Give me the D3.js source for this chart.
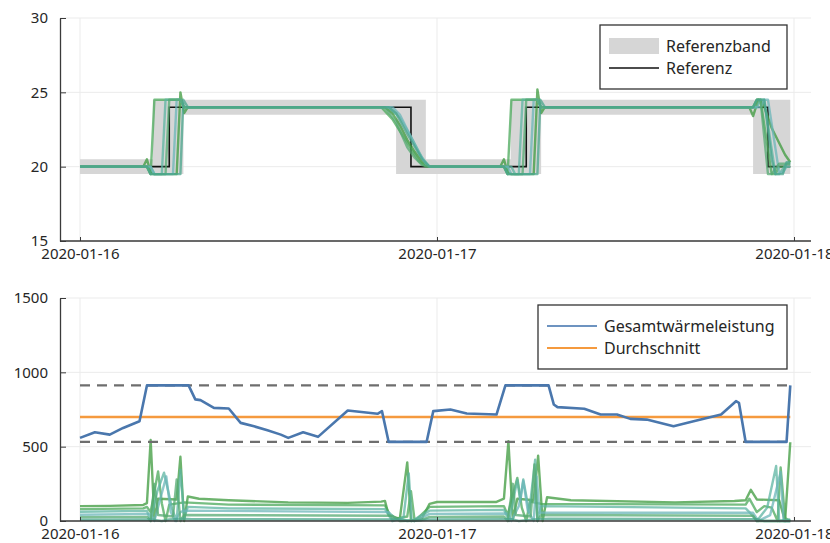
<!DOCTYPE html>
<html>
<head>
<meta charset="utf-8">
<script src="https://cdn.jsdelivr.net/npm/d3@7"></script>
<style>
  body { margin: 0; background: #fff; }
  svg { display: block; font-family: "Noto Sans", sans-serif; }
</style>
</head>
<body>
<svg id="chart" width="830" height="543"></svg>
<script>
// time in hours since 2020-01-16 00:00
const xTickDates = ["2020-01-16", "2020-01-17", "2020-01-18"];
const tempTicks = [15, 20, 25, 30];
const powerTicks = [0, 500, 1000, 1500];

const referenz = [[0, 20], [6, 20], [6, 24], [22.25, 24], [22.25, 20], [30, 20], [30, 24], [46.25, 24], [46.25, 20], [47.75, 20]];

const bandHours = [0, 4.9, 6.95, 21.25, 23.25, 28.95, 31.0, 45.25, 47.75];
const bandLow = [19.5, 19.5, 23.5, 19.5, 19.5, 19.5, 23.5, 19.5, 19.5];
const bandHigh = [20.5, 24.5, 24.5, 24.5, 20.5, 24.5, 24.5, 24.5, 24.5];

// room temperatures
const tempA = [[0, 20], [4.25, 20], [4.5, 20.5], [4.75, 19.6], [5, 19.5], [6.5, 19.5], [6.75, 25], [7, 23.6], [7.25, 24], [20.5, 24], [21, 23.6], [21.5, 22.8], [22, 21.8], [22.5, 21], [23, 20.3], [23.5, 20], [28.25, 20], [28.5, 20.5], [28.75, 19.6], [29, 19.5], [30.5, 19.5], [30.75, 25.2], [31, 23.6], [31.25, 24], [45, 24], [45.25, 23.4], [45.6, 24.5], [45.9, 24.3], [46.5, 22.6], [47.4, 20.8], [47.75, 20.3]];
const tempB = [[0, 20], [4.5, 20], [4.75, 19.5], [5, 24.5], [6.75, 24.5], [7, 24], [20.25, 24], [21, 23.2], [22, 21.6], [22.75, 20.4], [23.25, 20], [28.5, 20], [28.75, 19.5], [29, 24.5], [30.75, 24.5], [31, 24], [45.25, 24], [45.5, 24.5], [45.75, 24.5], [46.5, 19.5], [46.75, 19.5], [47, 20], [47.75, 20]];
const tempC = [[0, 20], [4.75, 20], [5, 19.5], [5.5, 19.5], [5.75, 24.5], [6.75, 24.5], [7, 24], [20.75, 24], [21.5, 23.3], [22.25, 22], [23, 20.6], [23.5, 20], [29, 20], [29.25, 19.5], [29.5, 19.5], [29.75, 24.5], [30.75, 24.5], [31, 24], [45.5, 24], [45.75, 24.5], [46, 24.5], [46.75, 19.5], [47, 19.5], [47.5, 20.2], [47.75, 20.2]];
const tempD = [[0, 20], [4.75, 20], [5, 19.5], [6.25, 19.5], [6.5, 24.5], [6.75, 24.5], [7, 24], [21, 24], [21.5, 23.5], [22, 22.5], [22.75, 21], [23.25, 20.2], [23.5, 20], [28.75, 20], [29, 19.5], [30.25, 19.5], [30.5, 24.5], [30.75, 24.5], [31, 24], [45.75, 24], [46, 24.5], [46.25, 24.5], [47, 19.6], [47.25, 19.6], [47.5, 20], [47.75, 20]];
const tempE = [[0, 20], [4.5, 20], [4.75, 19.5], [5.75, 19.5], [6, 24.5], [6.75, 24.5], [7, 24], [20.5, 24], [21.25, 23], [22, 21.3], [22.5, 20.6], [23, 20.1], [23.5, 20], [28.5, 20], [28.75, 19.5], [29.75, 19.5], [30, 24.5], [30.75, 24.5], [31, 24], [45.25, 24], [45.5, 24.5], [45.75, 24.5], [46.25, 19.5], [46.5, 19.5], [47, 20.2], [47.75, 20.2]];
const tempF = [[0, 20], [4.5, 20], [4.75, 19.5], [6.75, 19.5], [6.95, 24.5], [7.25, 24], [20.75, 24], [21.25, 23.6], [22, 22.2], [23, 20.5], [23.5, 20], [28.5, 20], [28.75, 19.5], [30.75, 19.5], [30.95, 24.5], [31.25, 24], [45.25, 24], [45.5, 24.5], [46, 24.5], [46.5, 20.5], [46.75, 19.5], [47.25, 19.5], [47.5, 20.3], [47.75, 20.3]];

// room heating power
const heatA = [[0, 100], [2, 102], [4.25, 108], [4.5, 120], [4.75, 545], [5, 10], [5.25, 150], [6.5, 145], [6.75, 432], [7, 0], [7.25, 165], [8, 150], [10, 140], [14, 125], [18, 122], [20.25, 130], [20.5, 135], [20.75, 40], [21.5, 15], [22, 394], [22.25, 0], [23, 20], [23.5, 115], [24, 128], [28, 128], [28.5, 150], [28.8, 536], [29.1, 10], [29.4, 150], [30.5, 140], [30.8, 439], [31.1, 0], [31.4, 160], [33, 140], [40, 125], [44, 135], [44.75, 140], [45.1, 210], [45.5, 145], [47, 140], [47.4, 0], [47.75, 530]];
const heatB = [[0, 80], [4.25, 85], [4.5, 95], [4.75, 60], [5.25, 333], [5.5, 120], [5.75, 0], [6, 110], [7, 125], [10, 110], [20.5, 105], [21, 10], [22, 30], [22.25, 200], [22.5, 0], [23.5, 95], [28.5, 100], [28.75, 40], [29.4, 290], [29.7, 90], [30, 0], [30.25, 130], [31, 115], [44.75, 110], [45, 150], [45.5, 60], [46, 100], [46.5, 90], [46.9, 0], [47.1, 360], [47.4, 20], [47.75, 0]];
const heatC = [[0, 62], [4.5, 68], [4.75, 0], [5.2, 200], [5.65, 325], [6.2, 80], [6.5, 0], [6.75, 345], [7, 20], [7.25, 95], [10, 85], [20.5, 80], [21, 0], [21.75, 25], [22.1, 320], [22.3, 0], [23.5, 70], [28.5, 75], [28.85, 0], [29.4, 277], [29.6, 130], [29.8, 280], [30.2, 60], [30.6, 412], [30.75, 0], [31, 100], [44.75, 85], [45, 60], [45.5, 0], [46.2, 90], [46.8, 370], [47, 0], [47.75, 10]];
const heatD = [[0, 42], [4.75, 48], [5, 0], [5.4, 150], [5.8, 300], [6.1, 60], [6.4, 0], [6.75, 60], [7, 70], [20.75, 60], [21.25, 10], [22.5, 0], [23.5, 48], [28.75, 50], [29, 0], [29.5, 100], [29.8, 270], [30.1, 70], [30.5, 0], [30.7, 300], [30.9, 55], [45.25, 55], [45.6, 0], [46.4, 40], [47.1, 330], [47.3, 0], [47.75, 0]];
const heatE = [[0, 25], [4.5, 28], [4.75, 0], [5, 250], [5.25, 40], [6.25, 30], [6.5, 280], [6.75, 0], [7, 40], [21, 35], [21.5, 0], [22.9, 5], [23.5, 28], [28.5, 30], [28.75, 0], [29.1, 250], [29.3, 40], [30.3, 30], [30.55, 380], [30.75, 0], [31, 40], [45.25, 35], [45.5, 0], [47.75, 0]];
const heatF = [[0, 8], [4.75, 10], [5.5, 0], [6, 10], [6.9, 15], [7.5, 12], [21.5, 10], [22, 0], [23.5, 10], [29, 12], [29.5, 0], [30.5, 10], [31.5, 15], [45.5, 12], [46, 0], [47.75, 0]];

// total heating power
const gesamtHours = [0, 1, 2, 2.9, 4, 4.5, 7.3, 7.75, 8.1, 9, 10, 10.8, 11.7, 12.6, 13.5, 14, 15, 16, 18, 20, 20.3, 20.75, 23.3, 23.75, 24.9, 26, 28, 28.6, 31.5, 31.85, 32.1, 33.9, 35, 36.1, 37, 38.1, 39.9, 41.25, 43.1, 44.1, 44.3, 44.75, 47.5, 47.75];
const gesamtValues = [559, 597, 581, 626, 671, 912, 912, 818, 813, 761, 757, 660, 637, 610, 581, 559, 597, 566, 743, 721, 739, 532, 532, 739, 750, 723, 716, 912, 912, 784, 766, 755, 716, 716, 687, 682, 637, 671, 716, 806, 795, 532, 532, 912];
const durchschnitt = 700;
const leistungMax = 912;
const leistungMin = 532;

const roomTemps = [tempA, tempB, tempC, tempD, tempE, tempF];
const roomHeat = [heatA, heatB, heatC, heatD, heatE, heatF];
const roomColors = ["#3c9a3c", "#4aa85a", "#5cb4a2", "#6bb6b8", "#54aa72", "#49a58c"];

const T0 = Date.UTC(2020, 0, 16);
const hour = h => new Date(T0 + h * 36e5);

const svg = d3.select("#chart");
const plotLeft = 60;
const plotRight = 811;

const x = d3.scaleUtc().domain([hour(0), hour(48)]).range([80, 794]);
const xTicks = xTickDates.map(d => new Date(d + "T00:00:00Z"));
const yTemp = d3.scaleLinear().domain([15, 30]).range([241, 18]);
const yPower = d3.scaleLinear().domain([0, 1500]).range([521, 298]);

function grid(y, ticks) {
  const [bottom, top] = y.range();
  const g = svg.append("g").attr("stroke", "#ebebeb").attr("stroke-width", 1);
  g.selectAll("line.h")
    .data(ticks)
    .join("line")
    .attr("class", "h")
    .attr("x1", plotLeft)
    .attr("x2", plotRight)
    .attr("y1", d => y(d))
    .attr("y2", d => y(d));
  g.selectAll("line.v")
    .data(xTicks)
    .join("line")
    .attr("class", "v")
    .attr("x1", d => x(d))
    .attr("x2", d => x(d))
    .attr("y1", top)
    .attr("y2", bottom);
}

function axes(y, ticks) {
  const [bottom] = y.range();
  const yAxis = svg
    .append("g")
    .attr("transform", `translate(${plotLeft},0)`)
    .call(
      d3.axisLeft(y)
        .tickValues(ticks)
        .tickFormat(d3.format("d"))
        .tickSize(-6)
        .tickSizeOuter(0)
        .tickPadding(12)
    );
  const xAxis = svg
    .append("g")
    .attr("transform", `translate(0,${bottom})`)
    .call(
      d3.axisBottom(x)
        .tickValues(xTicks)
        .tickSize(-4)
        .tickSizeOuter(0)
        .tickPadding(7)
        .tickFormat(d3.utcFormat("%Y-%m-%d"))
    );
  xAxis.select(".domain").remove();
  svg
    .append("line")
    .attr("x1", plotLeft)
    .attr("x2", plotRight)
    .attr("y1", bottom)
    .attr("y2", bottom)
    .attr("stroke", "#3a3a3a")
    .attr("stroke-width", 1.3);
  [yAxis, xAxis].forEach(a => {
    a.attr("font-family", null).attr("font-size", null);
    a.selectAll("text").attr("fill", "#262626").style("font-size", "15px");
    a.selectAll(".tick line").attr("stroke", "#3a3a3a");
    a.select(".domain").attr("stroke", "#3a3a3a").attr("stroke-width", 1.3);
  });
}

function legend(x0, y0, w, h, items) {
  const g = svg.append("g");
  g.append("rect")
    .attr("x", x0)
    .attr("y", y0)
    .attr("width", w)
    .attr("height", h)
    .attr("fill", "#fff")
    .attr("stroke", "#333")
    .attr("stroke-width", 1.3);
  items.forEach((it, i) => {
    const cy = y0 + 21 + i * 22;
    if (it.patch) {
      g.append("rect")
        .attr("x", x0 + 9)
        .attr("y", cy - 8)
        .attr("width", 50)
        .attr("height", 16)
        .attr("fill", it.color);
    } else {
      g.append("line")
        .attr("x1", x0 + 9)
        .attr("x2", x0 + 59)
        .attr("y1", cy)
        .attr("y2", cy)
        .attr("stroke", it.color)
        .attr("stroke-width", it.width);
    }
    g.append("text")
      .attr("x", x0 + 66)
      .attr("y", cy)
      .attr("dy", "0.35em")
      .attr("fill", "#262626")
      .style("font-size", "16px")
      .text(it.label);
  });
}

const line = y =>
  d3.line()
    .x(d => x(hour(d[0])))
    .y(d => y(d[1]));

// ---- top panel: temperatures
grid(yTemp, tempTicks);

const bandRows = bandHours.map((h, i) => ({ h, lo: bandLow[i], hi: bandHigh[i] }));
svg.append("path")
  .datum(bandRows)
  .attr("fill", "#d6d6d6")
  .attr("d", d3.area()
    .curve(d3.curveStepAfter)
    .x(d => x(hour(d.h)))
    .y0(d => yTemp(d.lo))
    .y1(d => yTemp(d.hi)));

svg.append("path")
  .datum(referenz)
  .attr("fill", "none")
  .attr("stroke", "#111")
  .attr("stroke-width", 1.6)
  .attr("d", line(yTemp));

svg.append("g")
  .selectAll("path")
  .data(roomTemps)
  .join("path")
  .attr("fill", "none")
  .attr("stroke", (d, i) => roomColors[i])
  .attr("stroke-opacity", 0.75)
  .attr("stroke-width", 2.4)
  .attr("stroke-linejoin", "round")
  .attr("d", line(yTemp));

axes(yTemp, tempTicks);
legend(600, 25, 187, 64, [
  { label: "Referenzband", color: "#d6d6d6", patch: true },
  { label: "Referenz", color: "#111", width: 1.6 }
]);

// ---- bottom panel: heating power
grid(yPower, powerTicks);

svg.append("g")
  .selectAll("path")
  .data(roomHeat)
  .join("path")
  .attr("fill", "none")
  .attr("stroke", (d, i) => roomColors[i])
  .attr("stroke-opacity", 0.75)
  .attr("stroke-width", 2.4)
  .attr("stroke-linejoin", "round")
  .attr("d", line(yPower));

svg.append("g")
  .selectAll("line")
  .data([leistungMax, leistungMin])
  .join("line")
  .attr("x1", x(hour(0)))
  .attr("x2", x(hour(47.75)))
  .attr("y1", d => yPower(d))
  .attr("y2", d => yPower(d))
  .attr("stroke", "#6e6e6e")
  .attr("stroke-width", 2.2)
  .attr("stroke-dasharray", "10,7");

svg.append("line")
  .attr("x1", x(hour(0)))
  .attr("x2", x(hour(47.75)))
  .attr("y1", yPower(durchschnitt))
  .attr("y2", yPower(durchschnitt))
  .attr("stroke", "#f59a3e")
  .attr("stroke-width", 2.6);

svg.append("path")
  .datum(gesamtHours.map((h, i) => [h, gesamtValues[i]]))
  .attr("fill", "none")
  .attr("stroke", "#4a77ad")
  .attr("stroke-width", 2.6)
  .attr("stroke-linejoin", "round")
  .attr("d", line(yPower));

axes(yPower, powerTicks);
legend(538, 305, 249, 64, [
  { label: "Gesamtwärmeleistung", color: "#6d93c0", width: 2.2 },
  { label: "Durchschnitt", color: "#f59a3e", width: 2.2 }
]);
</script>
</body>
</html>
